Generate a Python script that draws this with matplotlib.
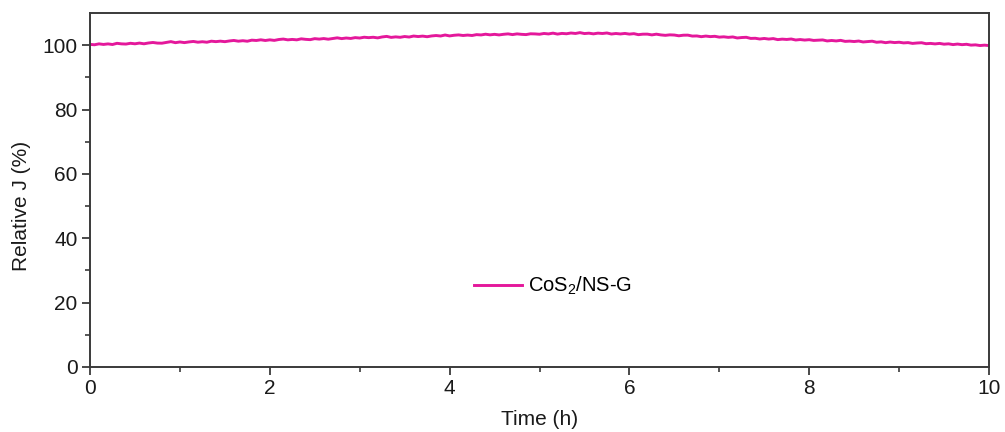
import numpy as np
import matplotlib
matplotlib.use("Agg")
import matplotlib.pyplot as plt
from matplotlib.ticker import FixedLocator, MultipleLocator

plt.rcParams['font.family'] = ['Liberation Sans', 'DejaVu Sans']
plt.rcParams['mathtext.default'] = 'regular'

# Chronoamperometric stability: relative current density over 10 h
time_h = np.round(np.arange(0, 10.0001, 0.05), 2)
relative_j = [
    100.24, 100.13, 100.41, 100.23, 100.40, 100.21, 100.58, 100.41, 100.35, 100.59,
    100.43, 100.65, 100.43, 100.68, 100.84, 100.65, 100.62, 100.87, 101.10, 100.78,
    101.00, 100.80, 101.01, 101.16, 100.93, 101.07, 100.92, 101.24, 101.10, 101.25,
    101.09, 101.31, 101.47, 101.24, 101.39, 101.23, 101.56, 101.46, 101.67, 101.46,
    101.66, 101.49, 101.76, 101.90, 101.66, 101.79, 101.66, 101.97, 101.81, 101.72,
    102.03, 101.89, 102.06, 101.86, 102.08, 102.28, 102.04, 102.23, 102.09, 102.35,
    102.22, 102.47, 102.34, 102.46, 102.27, 102.56, 102.73, 102.42, 102.58, 102.45,
    102.69, 102.53, 102.84, 102.68, 102.82, 102.63, 102.87, 103.00, 102.85, 103.16,
    102.88, 103.08, 103.19, 103.01, 103.14, 103.01, 103.28, 103.18, 103.41, 103.21,
    103.37, 103.19, 103.38, 103.51, 103.29, 103.51, 103.37, 103.29, 103.54, 103.50,
    103.40, 103.64, 103.50, 103.74, 103.45, 103.66, 103.55, 103.78, 103.64, 103.90,
    103.61, 103.73, 103.52, 103.74, 103.63, 103.79, 103.47, 103.63, 103.49, 103.65,
    103.44, 103.58, 103.27, 103.42, 103.43, 103.20, 103.42, 103.19, 103.06, 103.21,
    103.15, 102.92, 103.10, 103.12, 102.83, 102.87, 102.64, 102.83, 102.66, 102.76,
    102.50, 102.60, 102.43, 102.56, 102.24, 102.38, 102.45, 102.10, 102.15, 101.92,
    102.09, 101.90, 102.05, 101.73, 101.88, 101.78, 101.92, 101.61, 101.75, 101.59,
    101.71, 101.48, 101.55, 101.63, 101.32, 101.46, 101.32, 101.50, 101.18, 101.26,
    101.13, 101.29, 101.00, 101.13, 101.24, 100.91, 101.03, 100.78, 100.98, 100.81,
    100.92, 100.71, 100.80, 100.55, 100.68, 100.76, 100.46, 100.55, 100.40, 100.55,
    100.31, 100.42, 100.18, 100.35, 100.16, 100.28, 100.02, 100.10, 99.89, 100.01, 99.88,
]
series_label = 'CoS$_2$/NS-G'
x_ticks = [0, 2, 4, 6, 8, 10]
y_ticks = [0, 20, 40, 60, 80, 100]
y_minor_ticks = [10, 30, 50, 70, 90]

fig = plt.figure(figsize=(10.05, 4.32), dpi=100)
ax = fig.add_axes([90 / 1005, 65 / 432, 899 / 1005, 354 / 432])

ax.plot(time_h, relative_j, color='#E4189B', lw=2.1, label=series_label,
        solid_joinstyle='round')

ax.set_xlim(0, 10)
ax.set_ylim(0, 110)
ax.set_xticks(x_ticks)
ax.set_yticks(y_ticks)
ax.xaxis.set_minor_locator(MultipleLocator(1))
ax.yaxis.set_minor_locator(FixedLocator(y_minor_ticks))

spine_color = '#3a3a3a'
for s in ax.spines.values():
    s.set_linewidth(1.4)
    s.set_color(spine_color)

ax.tick_params(axis='both', which='major', direction='out', length=6, width=1.3,
               color=spine_color, labelsize=15, pad=3, labelcolor='#1a1a1a')
ax.tick_params(axis='both', which='minor', direction='out', length=3.5, width=1.2,
               color=spine_color)
ax.tick_params(top=False, right=False, which='both')

ax.set_xlabel('Time (h)', fontsize=15, labelpad=8, color='#1a1a1a')
ax.set_ylabel('Relative J (%)', fontsize=15, color='#1a1a1a')
# centre the y label on the 0-100 span rather than the full axis height
ax.yaxis.set_label_coords(-0.066, 50 / 110)

ax.legend(loc='center left', bbox_to_anchor=(474 / 1005, (432 - 286) / 432),
          bbox_transform=fig.transFigure, frameon=False, fontsize=14.5,
          borderpad=0, borderaxespad=0, handlelength=2.4, handletextpad=0.3)

fig.savefig('out.png', dpi=100)
